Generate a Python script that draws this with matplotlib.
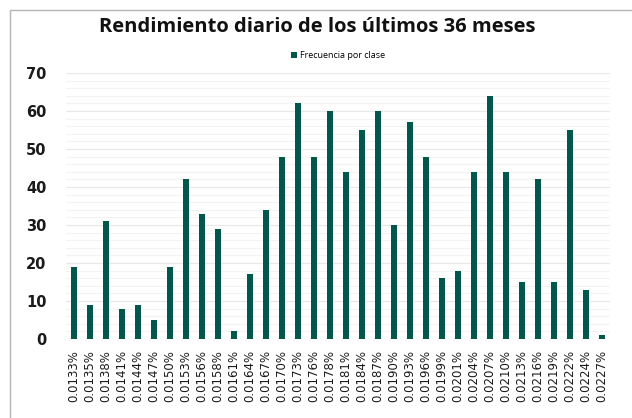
import numpy as np
import matplotlib
matplotlib.use("Agg")
import matplotlib.pyplot as plt
from matplotlib.patches import Rectangle
from matplotlib.ticker import MultipleLocator

# clases (rendimiento diario) y frecuencias
clases = ["0.0133%", "0.0135%", "0.0138%", "0.0141%", "0.0144%", "0.0147%",
          "0.0150%", "0.0153%", "0.0156%", "0.0158%", "0.0161%", "0.0164%",
          "0.0167%", "0.0170%", "0.0173%", "0.0176%", "0.0178%", "0.0181%",
          "0.0184%", "0.0187%", "0.0190%", "0.0193%", "0.0196%", "0.0199%",
          "0.0201%", "0.0204%", "0.0207%", "0.0210%", "0.0213%", "0.0216%",
          "0.0219%", "0.0222%", "0.0224%", "0.0227%"]
frecuencia = [19, 9, 31, 8, 9, 5, 19, 42, 33, 29, 2, 17, 34, 48, 62, 48, 60, 44,
              55, 60, 30, 57, 48, 16, 18, 44, 64, 44, 15, 42, 15, 55, 13, 1]

titulo = "Rendimiento diario de los últimos 36 meses"
serie = "Frecuencia por clase"
color_barra = "#02574C"

plt.rcParams['font.family'] = ['Open Sans', 'DejaVu Sans']

fig = plt.figure(figsize=(6.32, 4.18), dpi=100)
W, H = 632, 418

# borde del grafico (recortado a la derecha y abajo)
fig.patches.append(Rectangle((10 / W, -0.1), 1.2, (H - 10) / H + 0.1,
                             transform=fig.transFigure, fill=False,
                             edgecolor="#b5b5b5", linewidth=1.0))

ax = fig.add_axes([66 / W, (H - 339) / H, (610 - 66) / W, (339 - 73) / H])
x = np.arange(len(clases))
ax.bar(x, frecuencia, width=0.36, color=color_barra, label=serie, zorder=3)

ax.set_ylim(0, 70)
ax.set_xlim(-0.5, len(clases) - 0.5)
ax.yaxis.set_major_locator(MultipleLocator(10))
ax.yaxis.set_minor_locator(MultipleLocator(2))
ax.grid(axis="y", which="major", color="#e8e8e8", linewidth=0.9, zorder=0)
ax.grid(axis="y", which="minor", color="#f3f3f3", linewidth=0.8, zorder=0)
ax.set_axisbelow(True)
for s in ax.spines.values():
    s.set_visible(False)

ax.set_xticks(x)
ax.set_xticklabels(clases, rotation=90, fontsize=8.5, color="#1a1a1a",
                   family="DejaVu Sans")
ax.tick_params(axis="x", length=0, pad=8)
ax.tick_params(axis="y", which="both", length=0, pad=14)
for t in ax.get_yticklabels():
    t.set_fontsize(10.5)
    t.set_fontweight("bold")
    t.set_family("DejaVu Sans")
    t.set_color("#1a1a1a")

fig.text(317 / W, 1 - 27 / H, titulo, ha="center", va="center",
         fontsize=14.5, fontweight="bold", color="#111111")

leg = fig.legend(loc="center", bbox_to_anchor=(338 / W, 1 - 56 / H),
                 frameon=False, fontsize=6.5, handlelength=0.6,
                 handleheight=0.6, handletextpad=0.3)

fig.savefig("out.png", dpi=100)
